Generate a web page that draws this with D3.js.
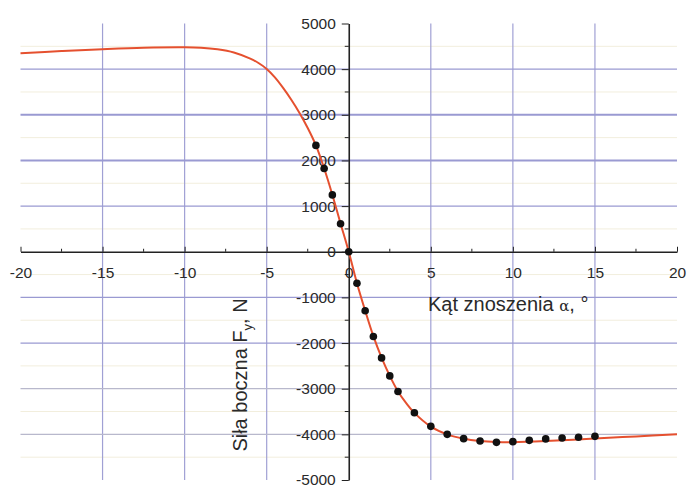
<!DOCTYPE html>
<html>
<head>
<meta charset="utf-8">
<script src="https://cdn.jsdelivr.net/npm/d3@7"></script>
<style>
  body { margin: 0; background: #fff; }
  text { font-family: Arial, "Liberation Sans", sans-serif; fill: #2a2a2a; }
</style>
</head>
<body>
<div id="chart"></div>
<script>
// fitted curve
var curve_x = [-20, -17.5, -15, -12.5, -10, -9, -8, -7, -6, -5.5, -5, -4.5, -4, -3.5, -3, -2.5, -2, -1.5, -1, -0.5, 0,
	0.5, 1, 1.5, 2, 2.5, 3, 3.5, 4, 5, 6, 7, 8, 9, 10, 12, 15, 17.5, 20];
var curve_y = [4350, 4395, 4437, 4470, 4480, 4470, 4435, 4365, 4230, 4135, 4005, 3820, 3590, 3330, 3040, 2710, 2330, 1830, 1250, 620, 0,
	-690, -1290, -1850, -2320, -2720, -3060, -3315, -3530, -3830, -4000, -4095, -4145, -4168, -4172, -4148, -4092, -4045, -4000];

// measured points
var dot_x = [-2, -1.5, -1, -0.5, 0, 0.5, 1, 1.5, 2, 2.5, 3, 4, 5, 6, 7, 8, 9, 10, 11, 12, 13, 14, 15];
var dot_y = [2330, 1825, 1245, 615, 0, -690, -1293, -1855, -2325, -2720, -3061, -3526, -3825, -4000, -4094, -4145, -4175, -4160, -4131, -4100, -4080, -4065, -4044];

var x_ticks = [-20, -15, -10, -5, 0, 5, 10, 15, 20];
var y_ticks = [-5000, -4000, -3000, -2000, -1000, 0, 1000, 2000, 3000, 4000, 5000];
var x_grid = [-15, -10, -5, 5, 10, 15];
var y_grid = [-4000, -3000, -2000, -1000, 1000, 2000, 3000, 4000];

var x_title = 'Kąt znoszenia ';
var y_title = 'Siła boczna F';

var chart_width = 688;
var chart_height = 487;

var svg = d3.select('#chart')
	.append('svg')
	.attr('width', chart_width)
	.attr('height', chart_height);

var x_scale = d3.scaleLinear()
	.domain([-20, 20])
	.range([20.5, 677]);

var y_scale = d3.scaleLinear()
	.domain([-5000, 5000])
	.range([480, 23.5]);

// faint minor grid
svg.append('g')
	.selectAll('line')
	.data(d3.range(-4500, 5000, 1000))
	.enter()
	.append('line')
	.attr('x1', x_scale(-20))
	.attr('x2', x_scale(20))
	.attr('y1', function(d){ return y_scale(d); })
	.attr('y2', function(d){ return y_scale(d); })
	.attr('stroke', '#f2eedd')
	.attr('stroke-width', 1);

// grid
svg.append('g')
	.selectAll('line')
	.data(x_grid)
	.enter()
	.append('line')
	.attr('x1', function(d){ return x_scale(d); })
	.attr('x2', function(d){ return x_scale(d); })
	.attr('y1', y_scale(5000))
	.attr('y2', y_scale(-5000))
	.attr('stroke', '#a0a0d4')
	.attr('stroke-width', 1.2);

svg.append('g')
	.selectAll('line')
	.data(y_grid)
	.enter()
	.append('line')
	.attr('x1', x_scale(-20))
	.attr('x2', x_scale(20))
	.attr('y1', function(d){ return y_scale(d); })
	.attr('y2', function(d){ return y_scale(d); })
	.attr('stroke', function(d){ return d < -2000 ? '#b8b8cc' : '#9a9ad2'; })
	.attr('stroke-width', function(d){ return (d == 2000 || d == 3000) ? 2 : 1.3; });

// x axis through the origin
var x_axis = d3.axisBottom(x_scale)
	.tickValues(x_ticks)
	.tickFormat(function(d){ return String(d); })
	.tickSizeInner(-5)
	.tickSizeOuter(0)
	.tickPadding(15);

var gx = svg.append('g')
	.attr('class', 'x-axis')
	.attr('transform', 'translate(0,' + y_scale(0) + ')')
	.call(x_axis);

gx.append('g')
	.selectAll('line')
	.data(d3.range(-17.5, 20, 5))
	.enter()
	.append('line')
	.attr('x1', function(d){ return x_scale(d); })
	.attr('x2', function(d){ return x_scale(d); })
	.attr('y1', 0)
	.attr('y2', -3)
	.attr('stroke', '#222');

// y axis through the origin
var y_axis = d3.axisLeft(y_scale)
	.tickValues(y_ticks)
	.tickFormat(function(d){ return String(d); })
	.tickSizeInner(7)
	.tickSizeOuter(0)
	.tickPadding(6);

var gy = svg.append('g')
	.attr('class', 'y-axis')
	.attr('transform', 'translate(' + x_scale(0) + ',0)')
	.call(y_axis);

gy.append('g')
	.selectAll('line')
	.data(d3.range(-4500, 5000, 1000))
	.enter()
	.append('line')
	.attr('x1', 0)
	.attr('x2', -4)
	.attr('y1', function(d){ return y_scale(d); })
	.attr('y2', function(d){ return y_scale(d); })
	.attr('stroke', '#222');

svg.selectAll('.domain')
	.attr('stroke', '#222')
	.attr('stroke-width', 1.6);
svg.selectAll('.tick line')
	.attr('stroke', '#222');
svg.selectAll('.tick text')
	.attr('font-size', 15.5)
	.attr('fill', '#2a2a2a');

// curve
var line = d3.line()
	.x(function(d, i){ return x_scale(curve_x[i]); })
	.y(function(d){ return y_scale(d); })
	.curve(d3.curveCatmullRom.alpha(0.5));

svg.append('path')
	.datum(curve_y)
	.attr('d', line)
	.attr('fill', 'none')
	.attr('stroke', '#e5502f')
	.attr('stroke-width', 2);

// points
svg.append('g')
	.selectAll('circle')
	.data(dot_y)
	.enter()
	.append('circle')
	.attr('cx', function(d, i){ return x_scale(dot_x[i]); })
	.attr('cy', function(d){ return y_scale(d); })
	.attr('r', 3.8)
	.attr('fill', '#111');

// axis titles
var xt = svg.append('text')
	.attr('x', 428)
	.attr('y', 311)
	.attr('font-size', 20)
	.attr('fill', '#333');
xt.append('tspan').text(x_title);
xt.append('tspan')
	.text('α')
	.attr('font-family', '"DejaVu Serif", serif')
	.attr('font-size', 15);
xt.append('tspan').text(', °');

var yt = svg.append('text')
	.attr('transform', 'translate(247,375) rotate(-90)')
	.attr('text-anchor', 'middle')
	.attr('font-size', 20)
	.attr('fill', '#333');
yt.append('tspan').text(y_title);
yt.append('tspan')
	.text('y')
	.attr('font-size', 13)
	.attr('dy', 5);
yt.append('tspan')
	.text(', N')
	.attr('dy', -5);
</script>
</body>
</html>
